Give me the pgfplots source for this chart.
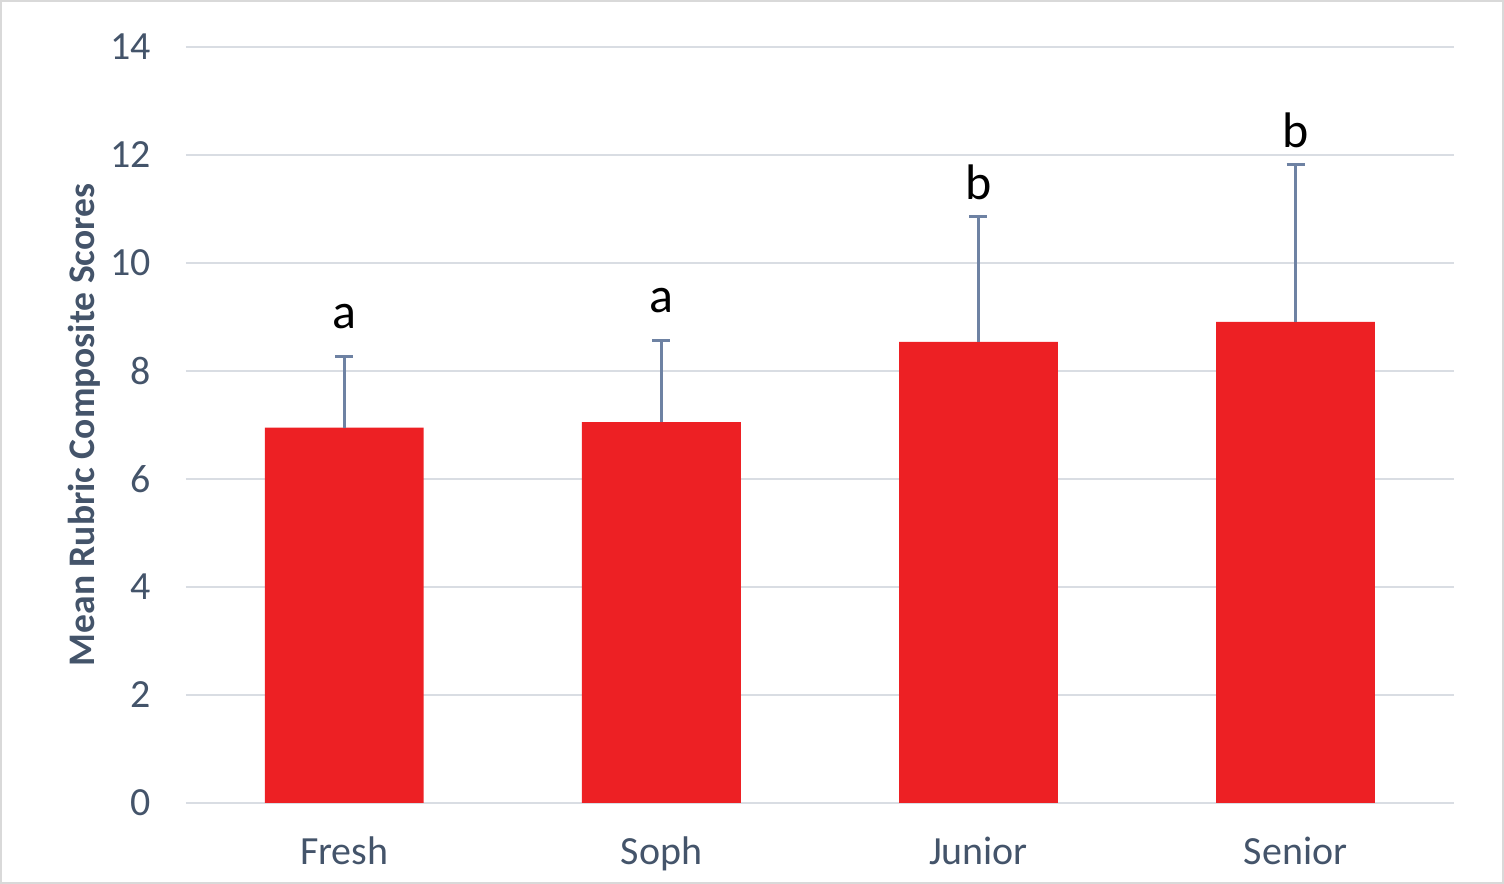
\documentclass[border=0pt]{standalone}
\usepackage{pgfplots}
\pgfplotsset{compat=1.18}
\usepackage{fontspec}
\setmainfont{Carlito}
\definecolor{barred}{HTML}{ED2024}
\definecolor{txt}{HTML}{44546A}
\definecolor{grd}{HTML}{D9DDE3}
\definecolor{errc}{HTML}{6E82A3}
\definecolor{frame}{HTML}{D9D9D9}

\begin{document}
\begin{tikzpicture}
  % frame of the chart area (1px = 0.5pt)
  \draw[frame, line width=1pt, use as bounding box] (-92.5pt,-40pt) rectangle (659.5pt,401.5pt);
  \begin{axis}[
    scale only axis,
    width=635pt, height=378.5pt,
    xmin=-0.5, xmax=3.5,
    ymin=0, ymax=14,
    ytick={0,2,...,14},
    xtick={0,1,2,3},
    xticklabels={Fresh,Soph,Junior,Senior},
    axis line style={draw=none},
    major tick style={draw=none},
    ymajorgrids,
    grid style={grd, line width=1.2pt},
    tick label style={font=\fontsize{20}{24}\selectfont, text=txt},
    /pgf/number format/assume math mode=true,
    yticklabel style={xshift=-14pt},
    xticklabel style={yshift=-13.5pt},
    ylabel={\bfseries Mean Rubric Composite Scores},
    ylabel style={font=\fontsize{18.8}{22}\selectfont, text=txt, yshift=-2pt},
    clip=false,
    lab/.style={draw=none, mark=none, nodes near coords, point meta=explicit symbolic,
      every node near coord/.append style={font=\fontsize{25}{30}\selectfont, text=black, anchor=base, inner sep=0pt, yshift=#1}},
  ]
    \addplot[ybar, bar width=79.5pt, fill=barred, draw=none,
      error bars/.cd, y dir=plus, y explicit,
      error bar style={errc, line width=1.5pt},
      error mark options={rotate=90, mark size=4.5pt, line width=1.5pt, errc}]
      table[x=x, y=y, y error=e] {
        x y    e
        0 6.95 1.32
        1 7.05 1.51
        2 8.54 2.32
        3 8.91 2.92
      };
    % group letters above the error bars
    \addplot[lab=14pt] table[x=x, y=y, meta=lab] {
        x y     lab
        0 8.27  a
        1 8.56  a
      };
    \addplot[lab=8.3pt] table[x=x, y=y, meta=lab] {
        x y     lab
        2 10.86 b
        3 11.83 b
      };
  \end{axis}
\end{tikzpicture}
\end{document}
